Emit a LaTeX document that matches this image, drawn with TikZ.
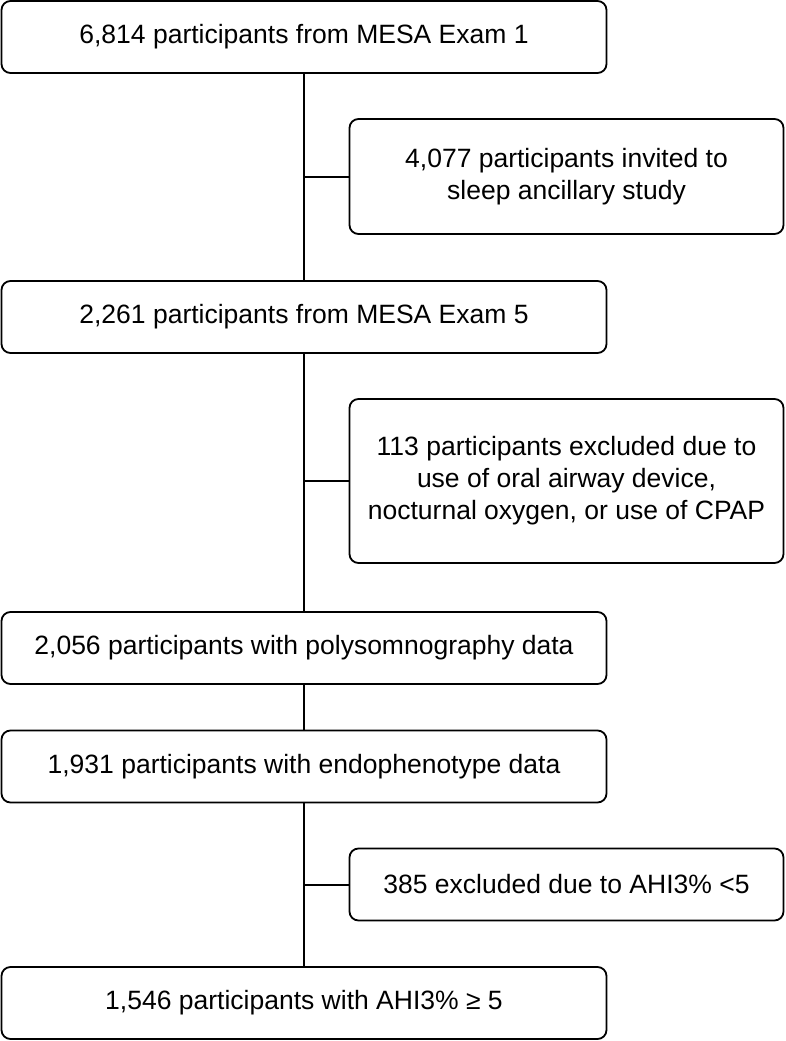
\documentclass[tikz,border=0pt]{standalone}
\usepackage{fontspec}
\setmainfont{Liberation Sans}
\begin{document}
\begin{tikzpicture}[x=1pt,y=-1pt,
  box/.style={draw=black,line width=1.8pt,rounded corners=9pt,align=center,
    font=\fontsize{26.5}{32}\selectfont,inner sep=0pt,minimum width=605pt,minimum height=72pt},
  sidebox/.style={box,minimum width=434pt},
  conn/.style={line width=2pt}]
\useasboundingbox (0,0) rectangle (786,1041);
\node[box] (b1) at (304,37) {6,814 participants from MESA Exam 1};
\node[sidebox,minimum height=115pt] (b2) at (566.5,176.5) {4,077 participants invited to\\sleep ancillary study};
\node[box] (b3) at (304,317) {2,261 participants from MESA Exam 5};
\node[sidebox,minimum height=164pt] (b4) at (566.5,481) {113 participants excluded due to\\use of oral airway device,\\nocturnal oxygen, or use of CPAP};
\node[box] (b5) at (304,648) {2,056 participants with polysomnography data};
\node[box] (b6) at (304,766.5) {1,931 participants with endophenotype data};
\node[sidebox] (b7) at (566.5,884.5) {385 excluded due to AHI3\% <5};
\node[box] (b8) at (304,1003) {1,546 participants with AHI3\% ≥ 5};
\draw[conn] (b1.south) -- (b3.north);
\draw[conn] (b3.south) -- (b5.north);
\draw[conn] (b5.south) -- (b6.north);
\draw[conn] (b6.south) -- (b8.north);
\draw[conn] (b2.west) -- (b2.west -| b1.south);
\draw[conn] (b4.west) -- (b4.west -| b1.south);
\draw[conn] (b7.west) -- (b7.west -| b1.south);
\end{tikzpicture}
\end{document}
